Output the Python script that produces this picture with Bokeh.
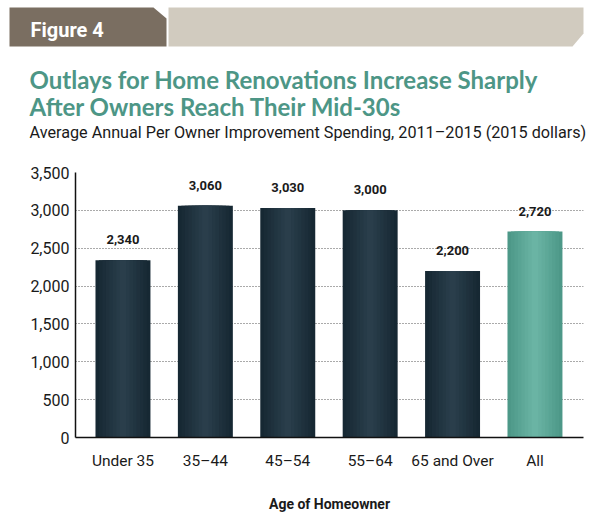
from bokeh.plotting import figure
from bokeh.models import (Range1d, LabelSet, ColumnDataSource, NumeralTickFormatter,
                          FixedTicker, Label)
from bokeh.core.properties import value
from bokeh.embed import file_html
from bokeh.resources import INLINE

# ---- data ----
categories = ["Under 35", "35–44", "45–54", "55–64", "65 and Over", "All"]
spending = [2340, 3060, 3030, 3000, 2200, 2720]
y_ticks = [0, 500, 1000, 1500, 2000, 2500, 3000, 3500]
figure_label = "Figure 4"
title_lines = ["Outlays for Home Renovations Increase Sharply",
               "After Owners Reach Their Mid-30s"]
subtitle = "Average Annual Per Owner Improvement Spending, 2011–2015 (2015 dollars)"
x_title = "Age of Homeowner"

pos = list(range(len(categories)))

# ---- layout constants ----
W = 592
HEAD_H = 150
CHART_H = 364
FRAME_LEFT, FRAME_RIGHT, FRAME_TOP, FRAME_BOTTOM = 75, 583, 172, 437

# ---- header figure (page-pixel coordinates) ----
h = figure(width=W, height=HEAD_H, x_range=Range1d(0, W), y_range=Range1d(HEAD_H, 0),
           output_backend="svg", toolbar_location=None, min_border=0,
           x_axis_location=None, y_axis_location=None)
h.grid.visible = False
h.outline_line_color = None
h.patch([9, 153, 166, 166, 9], [7, 7, 18, 46, 46], color="#7a6e61", line_width=0)
h.patch([168, 583, 583, 572, 168], [7, 7, 33, 46, 46], color="#d1cbbf", line_width=0)
h.add_layout(Label(x=30, y=29, text=figure_label, text_color="white", text_font="Roboto",
                   text_font_style="bold", text_font_size="20px", text_baseline="alphabetic"))
for i, line in enumerate(title_lines):
    h.add_layout(Label(x=29, y=79 + 27 * i, text=line, text_color="#4d9686", text_font="Lato",
                       text_font_style="bold", text_font_size="24px", text_baseline="alphabetic"))
h.add_layout(Label(x=29, y=132, text=subtitle, text_color="#1a1a1a", text_font="Roboto",
                   text_font_size="16.2px", text_baseline="alphabetic"))

# ---- chart figure ----
p = figure(width=W, height=CHART_H, x_range=Range1d(-0.576, len(categories) - 0.411),
           y_range=Range1d(0, 3500), output_backend="svg", toolbar_location=None,
           min_border_left=FRAME_LEFT, min_border_right=W - FRAME_RIGHT,
           min_border_top=FRAME_TOP - HEAD_H,
           min_border_bottom=HEAD_H + CHART_H - FRAME_BOTTOM)
p.outline_line_color = None
p.xgrid.visible = False
p.ygrid.ticker = FixedTicker(ticks=y_ticks)
p.ygrid.grid_line_color = "#555555"
p.ygrid.grid_line_dash = "1 2"
p.ygrid.grid_line_width = 1


def mix(c1, c2, t):
    a = [int(c1[i:i + 2], 16) for i in (1, 3, 5)]
    b = [int(c2[i:i + 2], 16) for i in (1, 3, 5)]
    return "#" + "".join(f"{round(a[k] + (b[k] - a[k]) * t):02x}" for k in range(3))


n_layers = 8
widths = [0.667 - k * (0.667 - 0.08) / (n_layers - 1) for k in range(n_layers)]
dark_pos, dark_vals = pos[:-1], spending[:-1]
all_pos, all_val = [pos[-1]], [spending[-1]]
for k, w in enumerate(widths):
    t = k / (n_layers - 1)
    p.vbar(x=dark_pos, top=dark_vals, width=w, color=mix("#162833", "#2a3e4b", t), line_width=0)
    p.vbar(x=all_pos, top=all_val, width=w, color=mix("#4d9888", "#6ab4a4", t), line_width=0)

src = ColumnDataSource(dict(x=pos, y=spending, t=[f"{v:,}" for v in spending]))
p.add_layout(LabelSet(x="x", y="y", text="t", source=src, y_offset=16, text_align="center",
                      text_baseline="alphabetic", text_font=value("Roboto"),
                      text_font_style="bold", text_font_size="13px", text_color="#1a1a1a"))

p.yaxis.ticker = FixedTicker(ticks=y_ticks)
p.yaxis.formatter = NumeralTickFormatter(format="0,0")
p.xaxis.ticker = FixedTicker(ticks=pos)
p.xaxis.major_label_overrides = {i: c for i, c in zip(pos, categories)}
for ax in (p.xaxis, p.yaxis):
    ax.major_tick_line_color = None
    ax.minor_tick_line_color = None
    ax.major_tick_out = 0
    ax.major_tick_in = 0
    ax.axis_line_color = "#111111"
    ax.axis_line_width = 1.5
    ax.major_label_text_font = "Roboto"
    ax.major_label_text_color = "#1a1a1a"
p.yaxis.major_label_text_font_size = "16px"
p.yaxis.major_label_standoff = 6
p.xaxis.major_label_text_font_size = "15.5px"
p.xaxis.major_label_standoff = 14
p.xaxis.axis_label = x_title
p.xaxis.axis_label_text_font = "Roboto"
p.xaxis.axis_label_text_font_style = "bold"
p.xaxis.axis_label_text_font_size = "14px"
p.xaxis.axis_label_text_color = "#1a1a1a"
p.xaxis.axis_label_standoff = 23

open("out.html", "w").write(file_html([h, p], INLINE))
